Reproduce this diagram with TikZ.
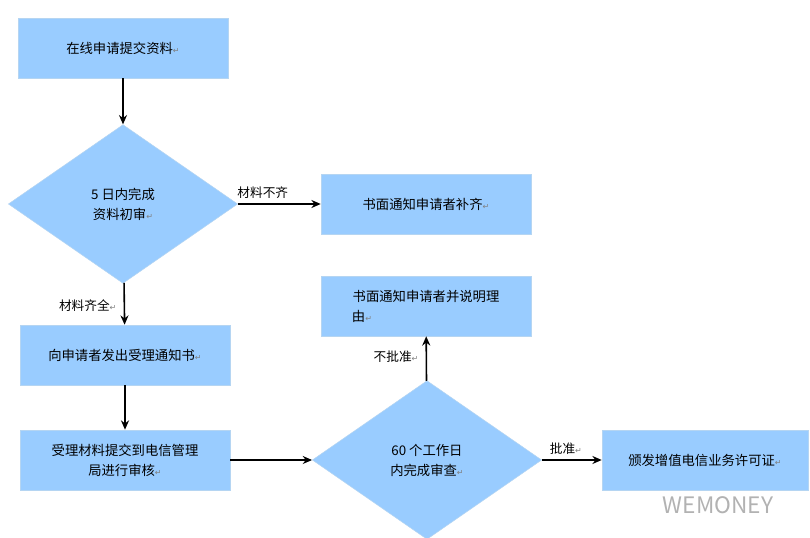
\documentclass[tikz,border=0pt]{standalone}
\usepackage{fontspec}
\setmainfont{Noto Sans CJK SC}
\newfontfamily\djv{DejaVu Sans}
\usetikzlibrary{shapes.geometric,arrows.meta}
\definecolor{bfill}{HTML}{99CCFF}
\definecolor{bdraw}{HTML}{B5D5F2}
\newcommand{\parmk}{{\djv\fontsize{6}{6}\selectfont\color{gray}↵}}
\begin{document}
\begin{tikzpicture}[x=0.75pt,y=-0.75pt,
  box/.style={draw=bdraw,fill=bfill,minimum width=157.5pt,minimum height=45pt,align=center,font=\fontsize{10}{15}\selectfont,inner sep=0pt},
  dia/.style={draw=bdraw,fill=bfill,diamond,aspect=1.45,minimum width=172pt,minimum height=119pt,align=center,font=\fontsize{10}{15}\selectfont,inner sep=0pt},
  arr/.style={-{Stealth[length=7pt,width=6pt]},line width=1.2pt},
  lab/.style={font=\fontsize{9.5}{12}\selectfont}]
\useasboundingbox (0,0) rectangle (810,538);
\node[box] (b1) at (123,48) {在线申请提交资料\parmk};
\node[dia] (d1) at (123,204) {5 日内完成\\资料初审\parmk};
\node[box] (b2) at (426,204) {书面通知申请者补齐\parmk};
\node[box] (b3) at (125,355) {向申请者发出受理通知书\parmk};
\node[box] (b4) at (125,460) {受理材料提交到电信管理\\局进行审核\parmk};
\node[dia] (d2) at (427,460) {60 个工作日\\内完成审查\parmk};
\node[box] (b5) at (426,306) {书面通知申请者并说明理\\由\parmk\hspace*{96pt}};
\node[box,minimum width=154.5pt] (b6) at (705,460) {颁发增值电信业务许可证\parmk};
\draw[arr] (b1) -- (d1);
\draw[arr] (d1.east) -- (b2.west) node[lab,pos=0.3,above] {材料不齐};
\draw[arr] (d1) -- (b3) node[lab,pos=0.55,left=2pt] {材料齐全\parmk};
\draw[arr] (b3) -- (b4);
\draw[arr] (b4.east) -- (d2.west);
\draw[arr] (d2) -- (b5) node[lab,pos=0.55,left=2pt] {不批准\parmk};
\draw[arr] (d2.east) -- (b6.west) node[lab,pos=0.4,above] {批准\parmk};
\node[font=\fontsize{17}{17}\selectfont,text=gray!60] (wm) at (718,505) {WEMONEY};
\end{tikzpicture}
\end{document}
